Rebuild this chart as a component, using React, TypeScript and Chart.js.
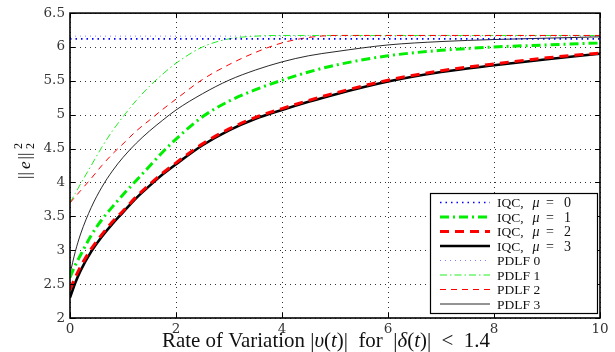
import React, { useEffect, useRef } from 'react';
import { Chart, registerables } from 'chart.js';

Chart.register(...registerables);

// ---- data ----
const T = [0, 0.1, 0.2, 0.4, 0.6, 0.8, 1, 1.25, 1.5, 1.75, 2, 2.5, 3, 3.5, 4, 4.5, 5, 6, 7, 8, 9, 10];
const IQC0 = [6.12, 6.12, 6.12, 6.12, 6.12, 6.12, 6.12, 6.12, 6.12, 6.12, 6.12, 6.12, 6.12, 6.12, 6.12, 6.12, 6.12, 6.12, 6.12, 6.12, 6.12, 6.12];
const IQC1 = [2.60, 2.78, 2.93, 3.22, 3.45, 3.64, 3.82, 4.03, 4.24, 4.45, 4.64, 4.97, 5.20, 5.37, 5.51, 5.63, 5.73, 5.87, 5.95, 6.00, 6.03, 6.06];
const IQC2 = [2.42, 2.60, 2.76, 3.02, 3.23, 3.42, 3.58, 3.79, 3.97, 4.14, 4.29, 4.57, 4.79, 4.96, 5.09, 5.21, 5.32, 5.51, 5.65, 5.75, 5.84, 5.91];
const IQC3 = [2.30, 2.52, 2.70, 2.98, 3.20, 3.39, 3.56, 3.77, 3.95, 4.12, 4.27, 4.55, 4.77, 4.94, 5.07, 5.19, 5.30, 5.49, 5.63, 5.73, 5.82, 5.90];
const PDLF0 = [6.16, 6.16, 6.16, 6.16, 6.16, 6.16, 6.16, 6.16, 6.16, 6.16, 6.16, 6.16, 6.16, 6.16, 6.16, 6.16, 6.16, 6.16, 6.16, 6.16, 6.16, 6.16];
const PDLF1 = [3.70, 3.84, 3.98, 4.25, 4.52, 4.76, 4.97, 5.21, 5.42, 5.60, 5.76, 6.00, 6.12, 6.16, 6.17, 6.17, 6.17, 6.17, 6.17, 6.17, 6.17, 6.17];
const PDLF2 = [3.70, 3.79, 3.88, 4.06, 4.25, 4.42, 4.57, 4.76, 4.92, 5.08, 5.23, 5.52, 5.74, 5.92, 6.06, 6.14, 6.17, 6.17, 6.17, 6.17, 6.17, 6.17];
const PDLF3 = [2.65, 2.98, 3.24, 3.63, 3.93, 4.17, 4.37, 4.58, 4.76, 4.92, 5.07, 5.31, 5.51, 5.66, 5.78, 5.87, 5.93, 6.03, 6.08, 6.11, 6.13, 6.15];

const X_TICKS = [0, 2, 4, 6, 8, 10];
const Y_TICKS = [2, 2.5, 3, 3.5, 4, 4.5, 5, 5.5, 6, 6.5];
const LEGEND_LABELS = ['IQC,', 'IQC,', 'IQC,', 'IQC,', 'PDLF 0', 'PDLF 1', 'PDLF 2', 'PDLF 3'];
const MU_VALUES = ['0', '1', '2', '3'];

const SERIF = '"Liberation Serif", "Times New Roman", serif';

type Style = { color: string; width: number; dash: number[] };
const STYLES: Style[] = [
  { color: '#0000ff', width: 1.6, dash: [1.5, 4] },
  { color: '#00ee00', width: 3, dash: [9, 4, 2, 4] },
  { color: '#ff0000', width: 3, dash: [9, 6] },
  { color: '#000000', width: 2.6, dash: [] },
  { color: '#8080ff', width: 1, dash: [1, 4] },
  { color: '#22ee22', width: 1, dash: [7, 3, 1.5, 3] },
  { color: '#ff0000', width: 1, dash: [6, 5] },
  { color: '#111111', width: 0.9, dash: [] },
];
const SERIES = [IQC0, IQC1, IQC2, IQC3, PDLF0, PDLF1, PDLF2, PDLF3];
const ORDERS = [3, 2, 0, 1, 7, 6, 5, 4];

type Part = { t: string; f: string };
function drawSeq(ctx: CanvasRenderingContext2D, parts: Part[], x: number, y: number) {
  let cx = x;
  for (const p of parts) {
    ctx.font = p.f;
    ctx.fillText(p.t, cx, y);
    cx += ctx.measureText(p.t).width;
  }
  return cx;
}
function seqWidth(ctx: CanvasRenderingContext2D, parts: Part[]) {
  let w = 0;
  for (const p of parts) {
    ctx.font = p.f;
    w += ctx.measureText(p.t).width;
  }
  return w;
}

const gridPlugin = {
  id: 'gridDots',
  beforeDatasetsDraw(chart: any) {
    const { ctx, chartArea: a, scales } = chart;
    ctx.save();
    ctx.strokeStyle = '#333';
    ctx.lineWidth = 1;
    ctx.setLineDash([1, 4]);
    X_TICKS.forEach((v) => {
      const px = Math.round(scales.x.getPixelForValue(v)) + 0.5;
      ctx.beginPath();
      ctx.moveTo(px, a.bottom);
      ctx.lineTo(px, a.top);
      ctx.stroke();
    });
    Y_TICKS.forEach((v) => {
      const py = Math.round(scales.y.getPixelForValue(v)) + 0.5;
      ctx.beginPath();
      ctx.moveTo(a.left, py);
      ctx.lineTo(a.right, py);
      ctx.stroke();
    });
    ctx.restore();
  },
};

const decorPlugin = {
  id: 'decor',
  afterDatasetsDraw(chart: any) {
    const { ctx, chartArea: a, scales } = chart;
    ctx.save();
    ctx.setLineDash([]);
    ctx.strokeStyle = '#000';
    // frame
    ctx.lineWidth = 1.6;
    ctx.strokeRect(a.left, a.top, a.right - a.left, a.bottom - a.top);
    // inward ticks
    ctx.lineWidth = 1;
    const tl = 5;
    X_TICKS.forEach((v) => {
      const px = Math.round(scales.x.getPixelForValue(v)) + 0.5;
      ctx.beginPath();
      ctx.moveTo(px, a.bottom); ctx.lineTo(px, a.bottom - tl);
      ctx.moveTo(px, a.top); ctx.lineTo(px, a.top + tl);
      ctx.stroke();
    });
    Y_TICKS.forEach((v) => {
      const py = Math.round(scales.y.getPixelForValue(v)) + 0.5;
      ctx.beginPath();
      ctx.moveTo(a.left, py); ctx.lineTo(a.left + tl, py);
      ctx.moveTo(a.right, py); ctx.lineTo(a.right - tl, py);
      ctx.stroke();
    });

    // legend
    const bx = 430, by = 193, bw = 167, bh = 120;
    ctx.fillStyle = '#fff';
    ctx.fillRect(bx, by, bw, bh);
    ctx.lineWidth = 1.2;
    ctx.strokeStyle = '#000';
    ctx.strokeRect(bx + 0.5, by + 0.5, bw, bh);
    const rowY0 = 202.5, rowStep = 14.5;
    for (let i = 0; i < 8; i++) {
      const y = rowY0 + i * rowStep;
      const s = STYLES[i];
      ctx.save();
      ctx.strokeStyle = s.color;
      ctx.lineWidth = s.width;
      ctx.setLineDash(s.dash);
      ctx.beginPath();
      ctx.moveTo(440, y);
      ctx.lineTo(490, y);
      ctx.stroke();
      ctx.restore();
      ctx.fillStyle = '#111';
      ctx.textBaseline = 'middle';
      ctx.textAlign = 'left';
      if (i < 4) {
        ctx.font = `13.5px ${SERIF}`;
        ctx.fillText(LEGEND_LABELS[i], 497, y + 1);
        ctx.font = `italic 14px ${SERIF}`;
        ctx.fillText('\u03bc', 532.5, y + 1);
        ctx.font = `14px ${SERIF}`;
        ctx.fillText('=', 546, y + 1);
        ctx.fillText(MU_VALUES[i], 564, y + 1);
      } else {
        ctx.font = `13.5px ${SERIF}`;
        ctx.fillText(LEGEND_LABELS[i], 497, y + 1);
      }
    }

    // x axis title
    ctx.fillStyle = '#111';
    ctx.textBaseline = 'alphabetic';
    ctx.textAlign = 'left';
    const N = `18px ${SERIF}`, I = `italic 18px ${SERIF}`;
    const xparts: Part[] = [
      { t: 'Rate of Variation ', f: N }, { t: '|', f: N }, { t: '\u03c5', f: I }, { t: '(', f: N },
      { t: 't', f: I }, { t: ')|', f: N }, { t: '  for  ', f: N }, { t: '|', f: N }, { t: '\u03b4', f: I },
      { t: '(', f: N }, { t: 't', f: I }, { t: ')|', f: N }, { t: '  <  1.4', f: N },
    ];
    const xw = seqWidth(ctx, xparts);
    const xStart = 162, xEnd = 490;
    ctx.save();
    ctx.translate(xStart, 347);
    ctx.scale((xEnd - xStart) / xw, 1.15);
    drawSeq(ctx, xparts, 0, 0);
    ctx.restore();

    // y axis title
    ctx.save();
    ctx.translate(30, 179);
    ctx.rotate(-Math.PI / 2);
    ctx.font = `17px ${SERIF}`;
    ctx.fillText('|', 0, 0);
    ctx.fillText('|', 3.5, 0);
    ctx.font = `italic 17px ${SERIF}`;
    ctx.fillText('e', 10, 0);
    ctx.font = `17px ${SERIF}`;
    ctx.fillText('|', 19.5, 0);
    ctx.fillText('|', 23, 0);
    ctx.font = `12px ${SERIF}`;
    ctx.fillText('2', 30, -8);
    ctx.fillText('2', 30, 4);
    ctx.restore();

    ctx.restore();
  },
};

export default function App() {
  const ref = useRef<HTMLCanvasElement>(null);
  useEffect(() => {
    document.body.style.margin = '0';
    const datasets = SERIES.map((arr, i) => ({
      label: String(i),
      data: T.map((t, k) => ({ x: t, y: arr[k] })),
      borderColor: STYLES[i].color,
      borderWidth: STYLES[i].width,
      borderDash: STYLES[i].dash,
      pointRadius: 0,
      fill: false,
      cubicInterpolationMode: 'monotone' as const,
      order: ORDERS[i],
    }));
    const tickFont = { family: '"DejaVu Serif", serif', size: 13.5 };
    const chart = new Chart(ref.current!, {
      type: 'line',
      data: { datasets },
      options: {
        animation: false,
        responsive: false,
        layout: { padding: { top: 11, right: 15, left: 0, bottom: 0 } },
        plugins: { legend: { display: false }, tooltip: { enabled: false } },
        scales: {
          x: {
            type: 'linear',
            min: 0,
            max: 10,
            afterFit: (s: any) => { s.height = 34; },
            afterBuildTicks: (s: any) => { s.ticks = X_TICKS.map((v) => ({ value: v })); },
            ticks: { padding: 3, font: tickFont, color: '#333', maxRotation: 0, autoSkip: false, callback: (v: any) => String(v) },
            grid: { display: false, drawTicks: false },
            border: { display: false },
          },
          y: {
            type: 'linear',
            min: 2,
            max: 6.5,
            afterFit: (s: any) => { s.width = 70; },
            afterBuildTicks: (s: any) => { s.ticks = Y_TICKS.map((v) => ({ value: v })); },
            ticks: { padding: 5, font: tickFont, color: '#333', autoSkip: false, callback: (v: any) => String(v) },
            grid: { display: false, drawTicks: false },
            border: { display: false },
          },
        },
      },
      plugins: [gridPlugin, decorPlugin],
    });
    return () => chart.destroy();
  }, []);
  return (
    <div style={{ width: 615, height: 352 }}>
      <canvas ref={ref} width={615} height={352} style={{ display: 'block' }} />
    </div>
  );
}
